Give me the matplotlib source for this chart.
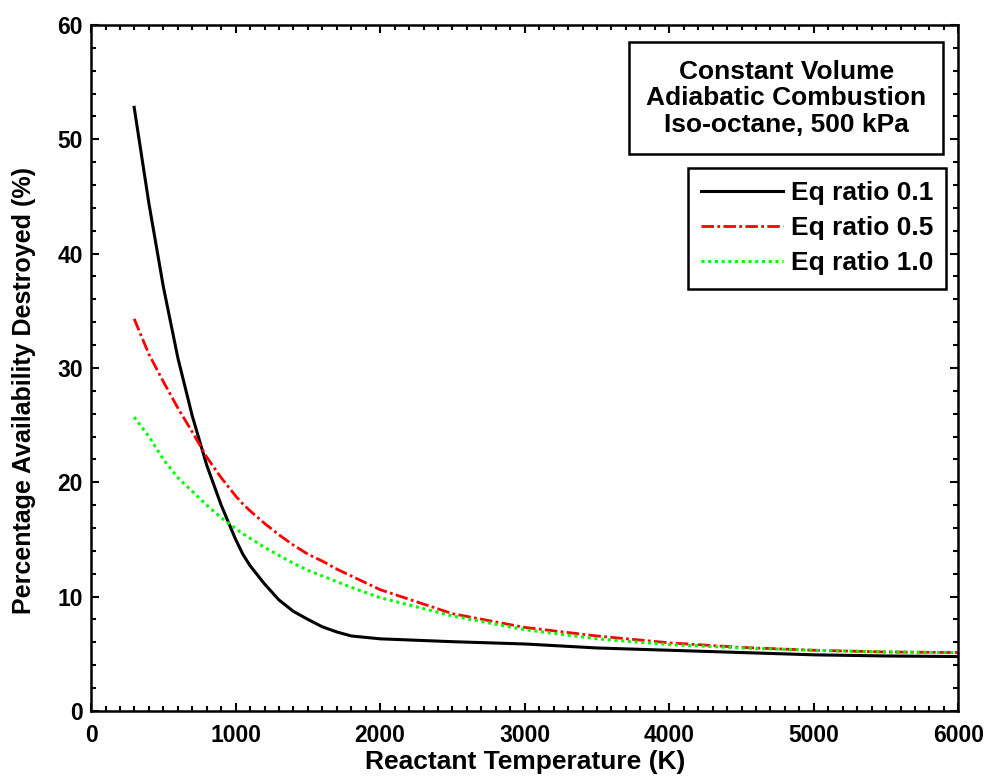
import numpy as np
import matplotlib
matplotlib.use('Agg')
import matplotlib.pyplot as plt
from matplotlib.ticker import MultipleLocator

plt.rcParams['font.family'] = ['Liberation Sans', 'DejaVu Sans']
plt.rcParams['font.weight'] = 'bold'

# reactant temperature (K)
temp = [298, 400, 500, 600, 700, 800, 900, 1000, 1050, 1100, 1200, 1300, 1400,
        1500, 1600, 1700, 1800, 2000, 2500, 3000, 3500, 4000, 4500, 5000, 5500, 6000]

# percentage availability destroyed (%)
eq_01 = [52.8, 44.4, 37.1, 30.9, 25.8, 21.5, 18.0, 15.0, 13.7, 12.7, 11.1, 9.7, 8.7,
         8.0, 7.35, 6.9, 6.55, 6.3, 6.05, 5.85, 5.5, 5.3, 5.1, 4.9, 4.8, 4.75]
eq_05 = [34.3, 31.2, 28.8, 26.5, 24.4, 22.2, 20.4, 18.8, 18.1, 17.5, 16.4, 15.4, 14.5,
         13.7, 13.1, 12.4, 11.8, 10.6, 8.5, 7.3, 6.55, 5.95, 5.55, 5.3, 5.15, 5.1]
eq_10 = [25.7, 24.0, 22.0, 20.4, 19.2, 18.0, 16.9, 15.95, 15.5, 15.1, 14.3, 13.6, 12.9,
         12.3, 11.8, 11.3, 10.8, 9.9, 8.3, 7.1, 6.3, 5.8, 5.5, 5.3, 5.15, 5.1]

labels = ['Eq ratio 0.1', 'Eq ratio 0.5', 'Eq ratio 1.0']

fig = plt.figure(figsize=(9.9, 7.82), dpi=100)
ax = fig.add_axes([0.092, 0.091, 0.876, 0.877])

ax.plot(temp, eq_01, color='black', linewidth=2.2, label=labels[0])
ax.plot(temp, eq_05, color='red', linewidth=2.0, dashes=(4.5, 1.2, 1, 1.2), label=labels[1])
ax.plot(temp, eq_10, color='#00ff00', linewidth=2.2, linestyle=(0, (1, 1.2)), label=labels[2])

ax.set_xlim(0, 6000)
ax.set_ylim(0, 60)
ax.xaxis.set_major_locator(MultipleLocator(1000))
ax.xaxis.set_minor_locator(MultipleLocator(100))
ax.yaxis.set_major_locator(MultipleLocator(10))
ax.yaxis.set_minor_locator(MultipleLocator(2))
ax.tick_params(which='both', direction='in', top=True, right=True, width=1.5, labelsize=16.5)
ax.tick_params(which='major', length=6)
ax.tick_params(which='minor', length=3.5)
ax.tick_params(axis='x', which='major', pad=9.5)
ax.tick_params(axis='y', which='major', pad=6)
for s in ax.spines.values():
    s.set_linewidth(1.8)

ax.set_xlabel('Reactant Temperature (K)', fontsize=19, fontweight='bold', labelpad=2)
ax.set_ylabel('Percentage Availability Destroyed (%)', fontsize=18, fontweight='bold')
ax.yaxis.set_label_coords(-0.063, 0.4665)

ax.text(0.8016, 0.893, 'Constant Volume\nAdiabatic Combustion\nIso-octane, 500 kPa',
        transform=ax.transAxes, ha='center', va='center', fontsize=19, fontweight='bold',
        linespacing=1.15,
        bbox=dict(boxstyle='square,pad=0.65', facecolor='white', edgecolor='black', linewidth=1.8))

leg = ax.legend(loc='upper right', bbox_to_anchor=(0.986, 0.7915), fontsize=19,
                handlelength=3.1, handletextpad=0.3, borderpad=0.5, labelspacing=0.42,
                borderaxespad=0, fancybox=False, framealpha=1, edgecolor='black')
leg.get_frame().set_linewidth(1.8)

fig.savefig('out.png', dpi=100)
